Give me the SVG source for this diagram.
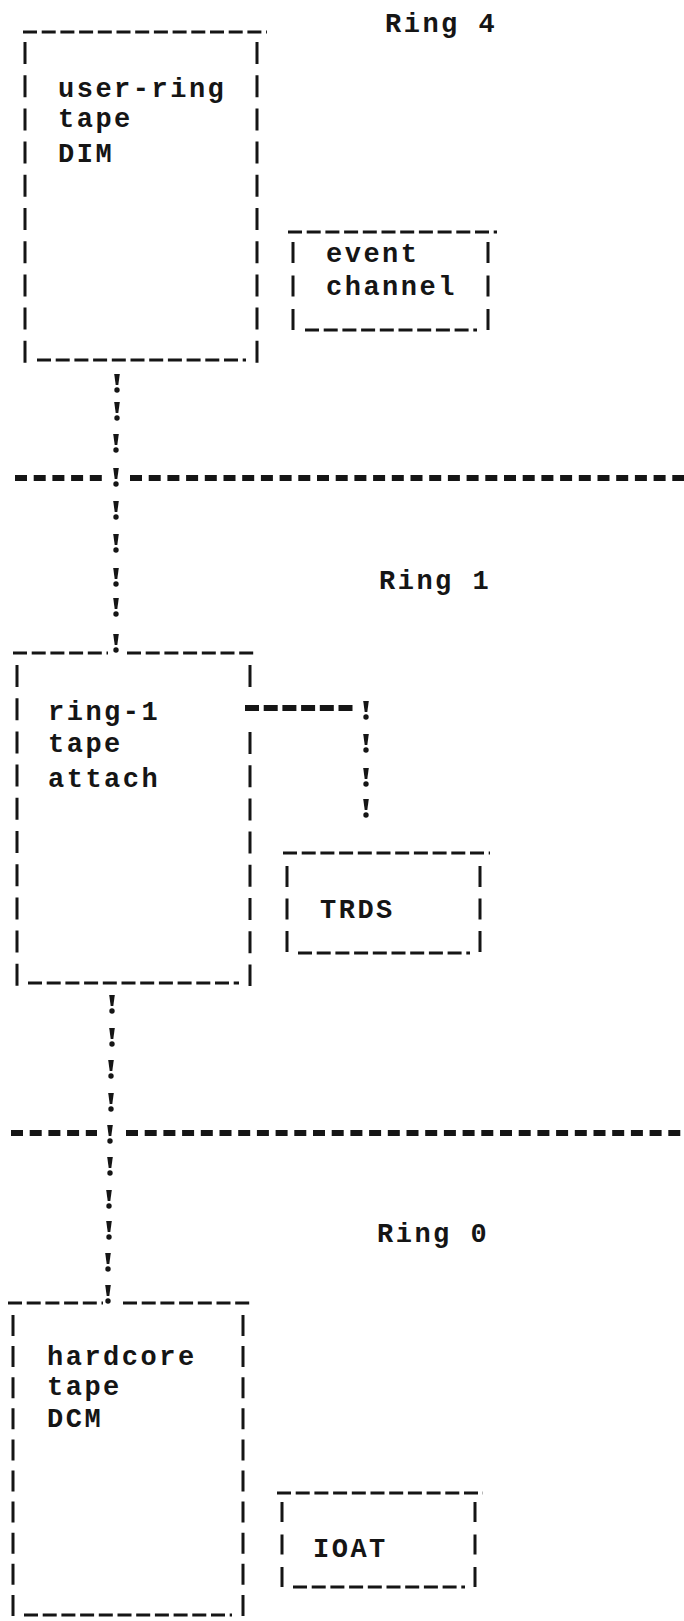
<svg xmlns="http://www.w3.org/2000/svg" width="684" height="1621" viewBox="0 0 684 1621">
<defs>
<style>
.t{font-family:"Liberation Mono","DejaVu Sans Mono",monospace;font-size:27px;font-weight:bold;letter-spacing:2.5px;fill:#151515}
.edge{stroke:#151515;stroke-width:3;stroke-dasharray:14 4.7;fill:none}
.side{stroke:#151515;stroke-width:3;fill:none}
.sep{stroke:#151515;stroke-width:6;stroke-dasharray:12 6.7;fill:none}
.hy{stroke:#151515;stroke-width:6;stroke-dasharray:14 4.7;fill:none}
</style>
<g id="bang"><path d="M-2.8,-9 L2.8,-9 L1.3,2 L-1.3,2 Z" fill="#151515"/><circle cx="0" cy="7" r="2.7" fill="#151515"/></g>
</defs>
<rect width="684" height="1621" fill="#ffffff"/>

<g id="ring-boundaries">
<text class="t" x="385" y="32">Ring 4</text>
<path class="sep" d="M15,478 H103 M130,478 H684"/>
<text class="t" x="379" y="589">Ring 1</text>
<path class="sep" d="M11,1133 H97 M126,1133 H684"/>
<text class="t" x="377" y="1242">Ring 0</text>
</g>

<g id="user-ring-tape-dim">
<path class="edge" d="M23,32 H267"/>
<path class="side" d="M25,42 V363 M257,42 V363" stroke-dasharray="22 11.2"/>
<path class="edge" d="M37,360 H246"/>
<text class="t" x="58" y="97">user-ring</text>
<text class="t" x="58" y="127">tape</text>
<text class="t" x="58" y="162">DIM</text>
</g>

<g id="event-channel">
<path class="edge" d="M288,232 H497"/>
<path class="side" d="M293,242 V331 M488,242 V331" stroke-dasharray="21 12.5"/>
<path class="edge" d="M305,330 H477"/>
<text class="t" x="326" y="262">event</text>
<text class="t" x="326" y="295">channel</text>
</g>

<g id="ring-1-tape-attach">
<path class="edge" d="M13,653 H108 M127,653 H257"/>
<path class="side" d="M17,665 V986" stroke-dasharray="22 11.2"/>
<path class="side" d="M250,665 V687"/>
<path class="side" d="M250,732 V986" stroke-dasharray="22 11.2"/>
<path class="edge" d="M28,983 H239"/>
<text class="t" x="48" y="720">ring-1</text>
<text class="t" x="48" y="752">tape</text>
<text class="t" x="48" y="787">attach</text>
</g>

<g id="trds">
<path class="edge" d="M283,853 H490"/>
<path class="side" d="M287,866 V953 M480,866 V953" stroke-dasharray="21 11.5"/>
<path class="edge" d="M298,953 H470"/>
<text class="t" x="320" y="918">TRDS</text>
</g>

<g id="hardcore-tape-dcm">
<path class="edge" d="M8,1303 H103 M123,1303 H252"/>
<path class="side" d="M13,1315 V1617 M243,1315 V1617" stroke-dasharray="21 10.1"/>
<path class="edge" d="M24,1615 H232"/>
<text class="t" x="47" y="1365">hardcore</text>
<text class="t" x="47" y="1395">tape</text>
<text class="t" x="47" y="1427">DCM</text>
</g>

<g id="ioat">
<path class="edge" d="M277,1493 H483"/>
<path class="side" d="M282,1502 V1588 M475,1502 V1588" stroke-dasharray="20 12.5"/>
<path class="edge" d="M293,1587 H465"/>
<text class="t" x="313" y="1557">IOAT</text>
</g>

<g id="connectors">
<use href="#bang" x="117" y="383"/>
<use href="#bang" x="117" y="411"/>
<use href="#bang" x="116" y="443"/>
<use href="#bang" x="116" y="477"/>
<use href="#bang" x="116" y="510"/>
<use href="#bang" x="116" y="543"/>
<use href="#bang" x="116" y="577"/>
<use href="#bang" x="116" y="607"/>
<use href="#bang" x="116" y="643"/>
<path class="hy" d="M245,708 H356"/>
<use href="#bang" x="366" y="710"/>
<use href="#bang" x="366" y="743"/>
<use href="#bang" x="366" y="777"/>
<use href="#bang" x="366" y="808"/>
<use href="#bang" x="112" y="1004"/>
<use href="#bang" x="112" y="1037"/>
<use href="#bang" x="111" y="1069"/>
<use href="#bang" x="111" y="1102"/>
<use href="#bang" x="110" y="1134"/>
<use href="#bang" x="110" y="1166"/>
<use href="#bang" x="109" y="1199"/>
<use href="#bang" x="109" y="1230"/>
<use href="#bang" x="108" y="1262"/>
<use href="#bang" x="108" y="1294"/>
</g>
</svg>
